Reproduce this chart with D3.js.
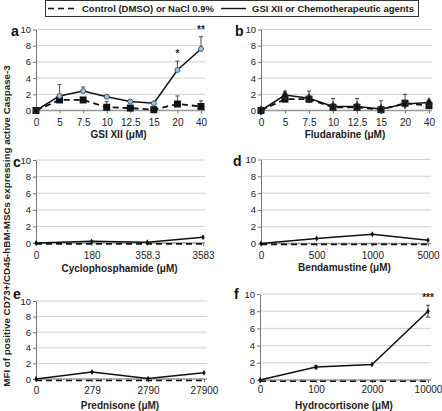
<!DOCTYPE html>
<html><head><meta charset="utf-8">
<script src="https://cdn.jsdelivr.net/npm/d3@7/dist/d3.min.js"></script>
<style>
body{margin:0;background:#fff;}
svg{display:block;font-family:"Liberation Sans",Arial,sans-serif;}
</style></head>
<body><svg id="c" width="442" height="411"></svg>
<script>
// ---------- DATA ----------
const legendLabels = ["Control (DMSO) or NaCl 0.9%", "GSI XII or Chemotherapeutic agents"];
const yTitle = "MFI of positive CD73+/CD45-hBM-MSCs expressing active Caspase-3";
const yTicks = [0, 2, 4, 6, 8, 10];
const panelLetters = ["a", "b", "c", "d", "e", "f"];
const xTitles = ["GSI XII (\u03bcM)", "Fludarabine (\u03bcM)", "Cyclophosphamide (\u03bcM)", "Bendamustine (\u03bcM)", "Prednisone (\u03bcM)", "Hydrocortisone (\u03bcM)"];

const catsGSI = ["0", "5", "7.5", "10", "12.5", "15", "20", "40"];
const gsiTreated = [0, 1.8, 2.4, 1.7, 1.1, 0.9, 5.0, 7.6];
const gsiTreatedErr = [0, 1.4, 0.5, 0.2, 0.2, 0.2, 1.1, 1.5];
const gsiControl = [0, 1.3, 1.3, 0.4, 0.3, 0.1, 0.8, 0.5];
const gsiControlErr = [0, 0.2, 0.2, 0.7, 0.3, 0.2, 1.0, 0.7];
const gsiStars = ["", "", "", "", "", "", "*", "**"];

const catsFlu = ["0", "5", "7.5", "10", "12.5", "15", "20", "40"];
const fluTreated = [0, 1.9, 1.5, 0.5, 0.5, 0.2, 0.8, 1.0];
const fluTreatedErr = [0, 0.5, 0.9, 1.0, 1.0, 1.0, 1.2, 0.2];
const fluControl = [0, 1.4, 1.4, 0.4, 0.4, 0.1, 0.9, 0.6];
const fluControlErr = [0, 0, 0, 0, 0, 0, 0, 0];

const catsCyc = ["0", "180", "358.3", "3583"];
const cycTreated = [0, 0.2, 0.1, 0.7];
const cycControl = [-0.1, -0.1, -0.1, -0.1];

const catsBen = ["0", "500", "1000", "5000"];
const benTreated = [0, 0.6, 1.1, 0.4];
const benControl = [-0.1, -0.1, -0.1, -0.1];

const catsPred = ["0", "279", "2790", "27900"];
const predTreated = [0, 0.9, 0.05, 0.8];
const predControl = [-0.2, -0.2, -0.2, -0.2];

const catsHyd = ["0", "100", "2000", "10000"];
const hydTreated = [0, 1.5, 1.8, 8.0];
const hydTreatedErr = [0, 0.2, 0, 0.7];
const hydControl = [-0.15, -0.15, -0.15, -0.15];
const hydStars = ["", "", "", "***"];

// ---------- LAYOUT ----------
const panels = [
  {cats: catsGSI, t: gsiTreated, te: gsiTreatedErr, c: gsiControl, ce: gsiControlErr, stars: gsiStars, sym: "big", blue: true,
   x0: 36, x1: 201, xr: 205, y0: 110.5, y1: 29.5, lx: 11, ly: 36, tickY: 122, titleY: 134},
  {cats: catsFlu, t: fluTreated, te: fluTreatedErr, c: fluControl, ce: fluControlErr, stars: null, sym: "big", blue: false,
   x0: 261, x1: 429, xr: 432, y0: 110.5, y1: 29.5, lx: 235, ly: 36, tickY: 122, titleY: 134},
  {cats: catsCyc, t: cycTreated, te: null, c: cycControl, ce: null, stars: null, sym: "small",
   x0: 36, x1: 203, xr: 205, y0: 243, y1: 160, lx: 13, ly: 167, tickY: 255, titleY: 268},
  {cats: catsBen, t: benTreated, te: null, c: benControl, ce: null, stars: null, sym: "small",
   x0: 261, x1: 428, xr: 431, y0: 243.5, y1: 159.5, lx: 233, ly: 166, tickY: 255, titleY: 267},
  {cats: catsPred, t: predTreated, te: null, c: predControl, ce: null, stars: null, sym: "small",
   x0: 36, x1: 204, xr: 207, y0: 379, y1: 301, lx: 13, ly: 299, tickY: 390, titleY: 405},
  {cats: catsHyd, t: hydTreated, te: hydTreatedErr, c: hydControl, ce: null, stars: hydStars, sym: "small",
   x0: 260, x1: 428, xr: 431, y0: 380, y1: 294, lx: 234, ly: 299, tickY: 389, titleY: 405}
];

const svg = d3.select("#c");
const txt = "#222";

// legend
const lg = svg.append("g");
lg.append("rect").attr("x", 45.5).attr("y", 0.5).attr("width", 373).attr("height", 16)
  .attr("fill", "#fff").attr("stroke", "#333").attr("stroke-width", 1);
lg.append("line").attr("x1", 48).attr("x2", 78).attr("y1", 8.5).attr("y2", 8.5)
  .attr("stroke", "#111").attr("stroke-width", 1.6).attr("stroke-dasharray", "6,4");
lg.append("text").attr("x", 82).attr("y", 12).text(legendLabels[0])
  .attr("font-size", 9.5).attr("font-weight", "bold").attr("fill", txt);
lg.append("line").attr("x1", 221).attr("x2", 246).attr("y1", 8.5).attr("y2", 8.5)
  .attr("stroke", "#111").attr("stroke-width", 1.4);
lg.append("text").attr("x", 252).attr("y", 12).text(legendLabels[1])
  .attr("font-size", 9.5).attr("font-weight", "bold").attr("fill", txt);

// y title
svg.append("text").attr("transform", "translate(10,226) rotate(-90)")
  .attr("text-anchor", "middle").attr("font-size", 9.8).attr("font-weight", "bold")
  .attr("fill", txt).text(yTitle);

panels.forEach((p, i) => {
  const g = svg.append("g");
  const x = d3.scalePoint().domain(p.cats).range([p.x0, p.x1]).padding(0);
  const y = d3.scaleLinear().domain([0, 10]).range([p.y0, p.y1]);

  // grid
  g.selectAll(".grid").data(yTicks.slice(1)).join("line")
    .attr("x1", p.x0).attr("x2", p.xr).attr("y1", d => y(d)).attr("y2", d => y(d))
    .attr("stroke", "#d0d0d0").attr("stroke-width", 1);

  // y axis
  const ya = g.append("g").attr("transform", `translate(${p.x0},0)`)
    .call(d3.axisLeft(y).tickValues(yTicks).tickSize(3).tickPadding(2).tickSizeOuter(0));
  ya.select(".domain").attr("stroke", "#777");
  ya.selectAll(".tick line").attr("stroke", "#777");
  ya.selectAll("text").attr("font-size", 9.5).attr("fill", txt).attr("font-family", "Liberation Sans, Arial, sans-serif");

  // x axis
  const xa = g.append("g").attr("transform", `translate(0,${p.y0})`)
    .call(d3.axisBottom(x).tickSize(3).tickPadding(3).tickSizeOuter(0));
  xa.select(".domain").attr("d", `M${p.x0},0H${p.xr}`).attr("stroke", "#999").attr("stroke-width", 1.5);
  xa.selectAll(".tick line").attr("stroke", "#777");
  xa.selectAll("text").attr("font-size", 10).attr("fill", txt).attr("font-family", "Liberation Sans, Arial, sans-serif")
    .attr("dy", null).attr("y", p.tickY - p.y0 + 3.5);

  // x title
  g.append("text").attr("x", (p.x0 + p.x1) / 2).attr("y", p.titleY + 3.5).attr("text-anchor", "middle")
    .attr("font-size", 10).attr("font-weight", "bold").attr("fill", txt).text(xTitles[i]);

  // panel letter
  g.append("text").attr("x", p.lx).attr("y", p.ly).attr("font-size", 14).attr("font-weight", "bold")
    .attr("fill", "#111").text(panelLetters[i]);

  const line = d3.line().x((d, j) => x(p.cats[j])).y(d => y(d));

  function errBars(vals, errs, both) {
    if (!errs) return;
    vals.forEach((v, j) => {
      if (!errs[j]) return;
      const cx = x(p.cats[j]);
      const top = y(v + errs[j]);
      const bot = both ? y(v - errs[j]) : y(v);
      g.append("line").attr("x1", cx).attr("x2", cx).attr("y1", top).attr("y2", bot)
        .attr("stroke", "#222").attr("stroke-width", 0.8);
      g.append("line").attr("x1", cx - 2).attr("x2", cx + 2).attr("y1", top).attr("y2", top)
        .attr("stroke", "#222").attr("stroke-width", 0.8);
      if (both) g.append("line").attr("x1", cx - 2).attr("x2", cx + 2).attr("y1", bot).attr("y2", bot)
        .attr("stroke", "#222").attr("stroke-width", 0.8);
    });
  }

  errBars(p.c, p.ce, false);
  errBars(p.t, p.te, p.sym === "small");

  g.append("path").datum(p.c).attr("d", line).attr("fill", "none")
    .attr("stroke", "#111").attr("stroke-width", p.sym === "big" ? 1.8 : 1.6).attr("stroke-dasharray", "6,4");
  g.append("path").datum(p.t).attr("d", line).attr("fill", "none")
    .attr("stroke", "#111").attr("stroke-width", 1.5);

  if (p.sym === "big") {
    g.selectAll(".sq").data(p.c).join("rect")
      .attr("x", (d, j) => x(p.cats[j]) - 3.5).attr("y", d => y(d) - 3.5)
      .attr("width", 7).attr("height", 7).attr("fill", "#111");
    g.selectAll(".tm").data(p.t).join("path")
      .attr("transform", (d, j) => `translate(${x(p.cats[j])},${y(d)})`)
      .attr("d", d3.symbol(p.blue ? d3.symbolCircle : d3.symbolDiamond, p.blue ? 20 : 26))
      .attr("fill", (d, j) => (p.blue && j > 0) ? "#9cc3e0" : "#111")
      .attr("stroke", "#2a3f55").attr("stroke-width", 0.8);
  } else {
    g.selectAll(".tm").data(p.t).join("path")
      .attr("transform", (d, j) => `translate(${x(p.cats[j])},${y(d)})`)
      .attr("d", d3.symbol(d3.symbolDiamond, 10)).attr("fill", "#111");
  }

  if (p.stars) {
    p.stars.forEach((s, j) => {
      if (!s) return;
      const v = p.t[j] + (p.te ? p.te[j] : 0);
      g.append("text").attr("x", x(p.cats[j])).attr("y", y(v) - 4).attr("text-anchor", "middle")
        .attr("font-size", 10).attr("font-weight", "bold").attr("fill", "#222").text(s);
    });
  }
});
</script></body></html>
